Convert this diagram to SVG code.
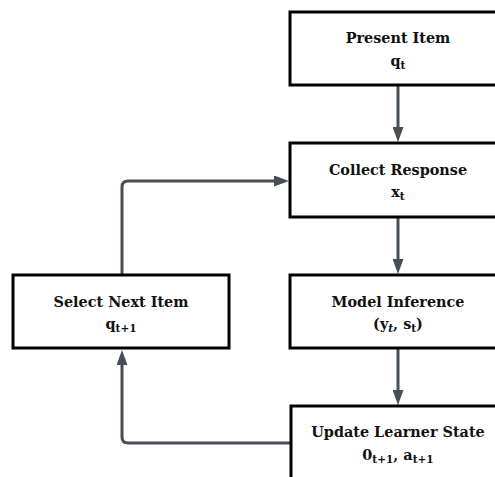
<svg xmlns="http://www.w3.org/2000/svg" width="495" height="477" viewBox="0 0 495 477">
  <style>
    .box { fill: #ffffff; stroke: #000000; stroke-width: 3; }
    .title { font-family: "DejaVu Serif", "Liberation Serif", serif; font-weight: bold; font-size: 14.4px; fill: #111111; text-anchor: middle; }
    .sub { font-family: "DejaVu Serif", "Liberation Serif", serif; font-weight: bold; font-size: 14.4px; fill: #111111; text-anchor: middle; }
    .idx { font-size: 10.5px; }
    .edge { fill: none; stroke: #474e58; stroke-width: 3; }
  </style>
  <defs>
    <marker id="arrow" markerUnits="userSpaceOnUse" markerWidth="15" markerHeight="11" refX="0" refY="5.5" orient="auto">
      <path d="M0,0 L15,5.5 L0,11 z" fill="#474e58"/>
    </marker>
  </defs>
  <rect width="495" height="477" fill="#ffffff"/>

  <g id="connectors">
    <path class="edge" d="M398 86 V127" marker-end="url(#arrow)"/>
    <path class="edge" d="M398 218 V259" marker-end="url(#arrow)"/>
    <path class="edge" d="M398 349 V390" marker-end="url(#arrow)"/>
    <path class="edge" d="M290 443 H128 Q122 443 122 437 V365" marker-end="url(#arrow)"/>
    <path class="edge" d="M122 274 V187 Q122 181 128 181 H274" marker-end="url(#arrow)"/>
  </g>

  <g id="present-item">
    <rect class="box" x="290" y="12" width="216" height="73"/>
    <text class="title" x="398" y="43">Present Item</text>
    <text class="sub" x="398" y="66">q<tspan class="idx" dy="3">t</tspan></text>
  </g>

  <g id="collect-response">
    <rect class="box" x="290" y="143" width="216" height="74"/>
    <text class="title" x="398" y="175">Collect Response</text>
    <text class="sub" x="398" y="197">x<tspan class="idx" dy="3">t</tspan></text>
  </g>

  <g id="model-inference">
    <rect class="box" x="290" y="275" width="216" height="73"/>
    <text class="title" x="398" y="307">Model Inference</text>
    <text class="sub" x="398" y="329">(y<tspan class="idx" dy="3" font-style="italic">t</tspan><tspan dy="-3">, s</tspan><tspan class="idx" dy="3">t</tspan><tspan dy="-3">)</tspan></text>
  </g>

  <g id="select-next-item">
    <rect class="box" x="13" y="275" width="216" height="73"/>
    <text class="title" x="121" y="307">Select Next Item</text>
    <text class="sub" x="121" y="329">q<tspan class="idx" dy="3">t+1</tspan></text>
  </g>

  <g id="update-learner-state">
    <rect class="box" x="291" y="406" width="216" height="80"/>
    <text class="title" x="398" y="437">Update Learner State</text>
    <text class="sub" x="398" y="460">0<tspan class="idx" dy="3">t+1</tspan><tspan dy="-3">, a</tspan><tspan class="idx" dy="3">t+1</tspan></text>
  </g>
</svg>
